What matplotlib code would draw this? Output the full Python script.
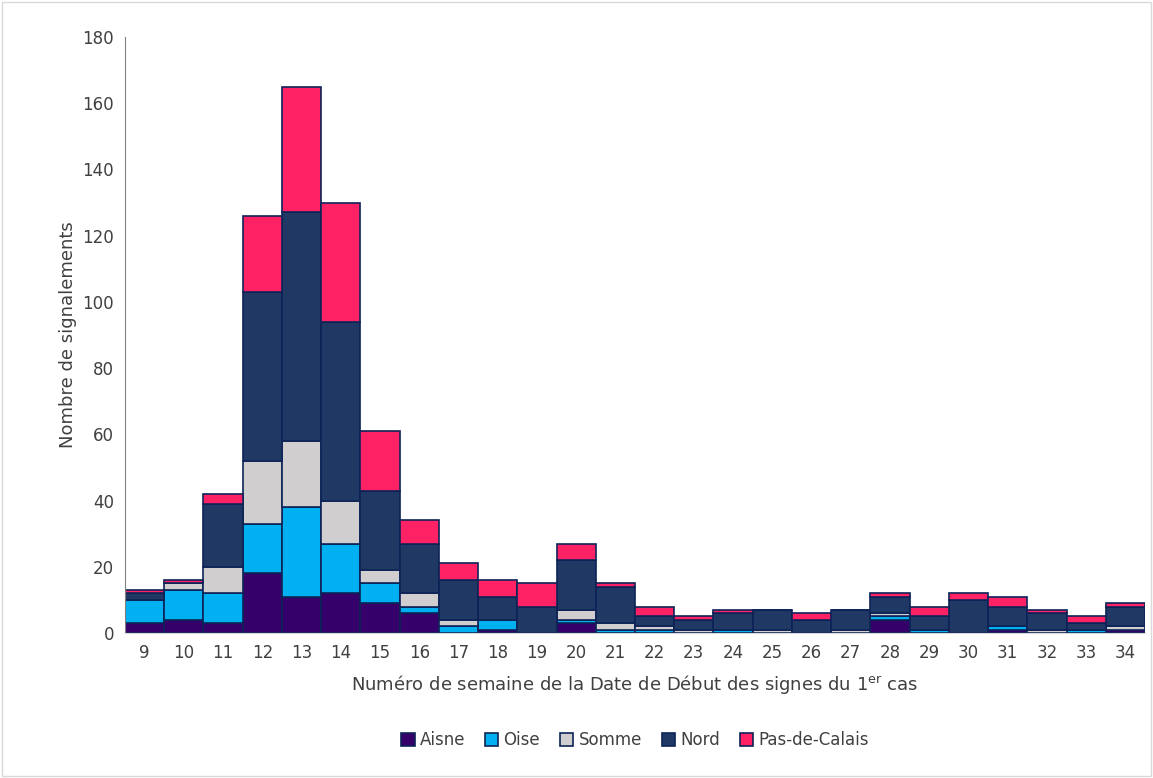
import matplotlib.pyplot as plt
import numpy as np

weeks = list(range(9, 35))
aisne = [3, 4, 3, 18, 11, 12, 9, 6, 0, 1, 0, 3, 0, 0, 0, 0, 0, 0, 0, 4, 0, 0, 1, 0, 0, 1]
oise = [7, 9, 9, 15, 27, 15, 6, 2, 2, 3, 0, 1, 1, 1, 0, 1, 0, 0, 0, 1, 1, 0, 1, 0, 1, 0]
somme = [0, 2, 8, 19, 20, 13, 4, 4, 2, 0, 0, 3, 2, 1, 1, 0, 1, 0, 1, 1, 0, 0, 0, 1, 0, 1]
nord = [2, 0, 19, 51, 69, 54, 24, 15, 12, 7, 8, 15, 11, 3, 3, 5, 6, 4, 6, 5, 4, 10, 6, 5, 2, 6]
pdc = [1, 1, 3, 23, 38, 36, 18, 7, 5, 5, 7, 5, 1, 3, 1, 1, 0, 2, 0, 1, 3, 2, 3, 1, 2, 1]

series = [("Aisne", aisne, "#36006b"), ("Oise", oise, "#00b0f0"),
          ("Somme", somme, "#d0cece"), ("Nord", nord, "#203864"),
          ("Pas-de-Calais", pdc, "#ff2366")]

fig = plt.figure(figsize=(11.53, 7.78), dpi=100)
ax = fig.add_axes([125 / 1153, 1 - 633 / 778, 1020 / 1153, 596 / 778])
x = np.arange(len(weeks))
bottom = np.zeros(len(weeks))
for name, vals, color in series:
    ax.bar(x, vals, bottom=bottom, width=1.0, color=color, edgecolor="#0d2357",
           linewidth=1.2, label=name)
    bottom += np.array(vals)

ax.set_xlim(-0.5, len(weeks) - 0.5)
ax.set_ylim(0, 180)
ax.set_yticks(range(0, 181, 20))
ax.set_xticks(x)
ax.set_xticklabels([str(w) for w in weeks])
ax.tick_params(axis="both", labelsize=12, colors="#404040", length=0, pad=8)
for s in ["top", "right"]:
    ax.spines[s].set_visible(False)
ax.spines["left"].set_color("#808080")
ax.spines["bottom"].set_color("#d9d9d9")
ax.set_ylabel("Nombre de signalements", fontsize=13, color="#404040")
ax.set_xlabel(r"Numéro de semaine de la Date de Début des signes du 1$^{\mathregular{er}}$ cas",
              fontsize=13, color="#404040", labelpad=8)
ax.legend(loc="upper center", bbox_to_anchor=(0.5, -0.14), ncol=5, frameon=False,
          fontsize=12, handlelength=0.8, handleheight=0.8, columnspacing=1.2,
          handletextpad=0.3, labelcolor="#404040")
fig.patches.append(plt.Rectangle((0.002, 0.002), 0.996, 0.996, transform=fig.transFigure,
                                 fill=False, edgecolor="#d9d9d9", linewidth=1))
fig.savefig("out.png", dpi=100, facecolor="white")
